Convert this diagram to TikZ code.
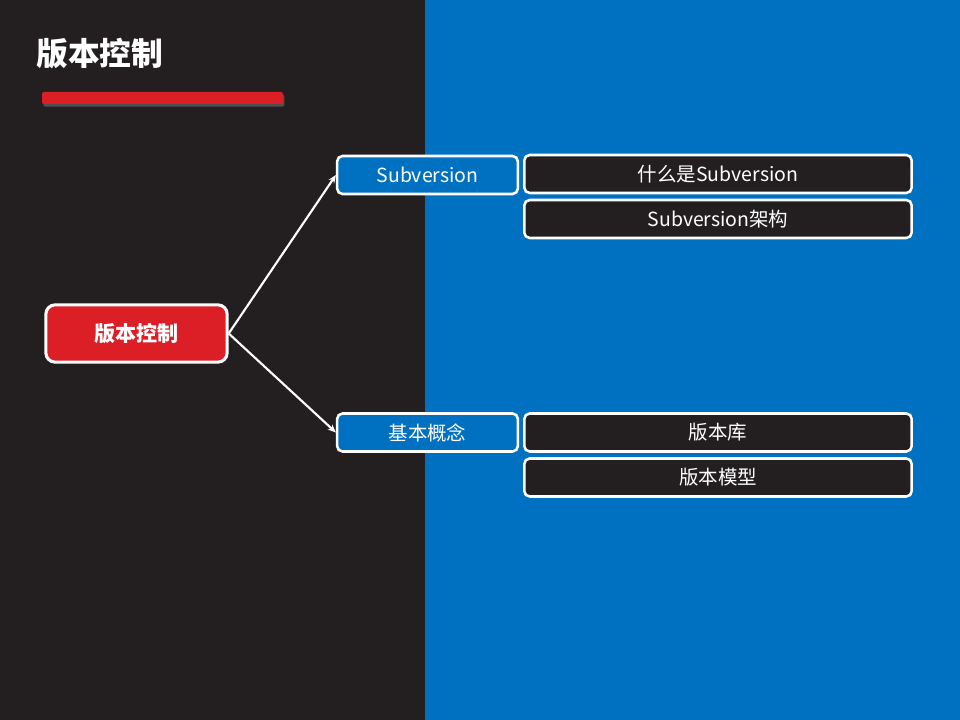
\documentclass[tikz,border=0pt]{standalone}
\usepackage{fontspec}
\setmainfont{Noto Sans CJK SC}
\usetikzlibrary{arrows.meta,shadows}
\definecolor{darkbg}{HTML}{231F20}
\definecolor{bluebg}{HTML}{0070C0}
\definecolor{redc}{HTML}{DC1F26}
\tikzset{
  px/.style={x=0.75pt,y=-0.75pt},
  rootbox/.style={draw=white,line width=2.3pt,fill=redc,rounded corners=7pt,minimum width=136pt,minimum height=43pt,text=white,font=\fontsize{15.8}{18}\selectfont\bfseries,inner sep=0pt},
  midbox/.style={draw=white,line width=1.9pt,fill=bluebg,rounded corners=4pt,minimum width=135.5pt,minimum height=28.5pt,text=white,font=\fontsize{14.6}{17}\selectfont,inner sep=0pt},
  leafbox/.style={draw=white,line width=1.9pt,fill=darkbg,rounded corners=4pt,minimum width=290.5pt,minimum height=28.5pt,text=white,font=\fontsize{14.6}{17}\selectfont,inner sep=0pt},
  link/.style={draw=white,line width=1.6pt,-{Stealth[length=6pt,width=5pt]}}
}
\begin{document}
\begin{tikzpicture}[px]
\useasboundingbox (0,0) rectangle (960,720);
\fill[darkbg] (0,0) rectangle (425,720);
\fill[bluebg] (425,0) rectangle (960,720);
\node[anchor=base west,text=white,font=\fontsize{23.8}{28}\selectfont\bfseries,inner sep=0pt] (title) at (36,66) {版本控制};
\fill[redc,rounded corners=1.5pt,drop shadow={shadow xshift=1pt,shadow yshift=-2pt,opacity=0.5}] (42,92) rectangle (283,104);
\node[rootbox] (root) at (136.5,333.5) {版本控制};
\node[midbox] (sub) at (427.5,175) {Subversion};
\node[midbox] (basic) at (427.5,432.5) {基本概念};
\node[leafbox] (l1) at (718,174) {什么是Subversion};
\node[leafbox] (l2) at (718,219) {Subversion架构};
\node[leafbox] (l3) at (718,432.5) {版本库};
\node[leafbox] (l4) at (718,477.5) {版本模型};
\draw[link] (root.east) -- (sub.west);
\draw[link] (root.east) -- (basic.west);
\end{tikzpicture}
\end{document}
